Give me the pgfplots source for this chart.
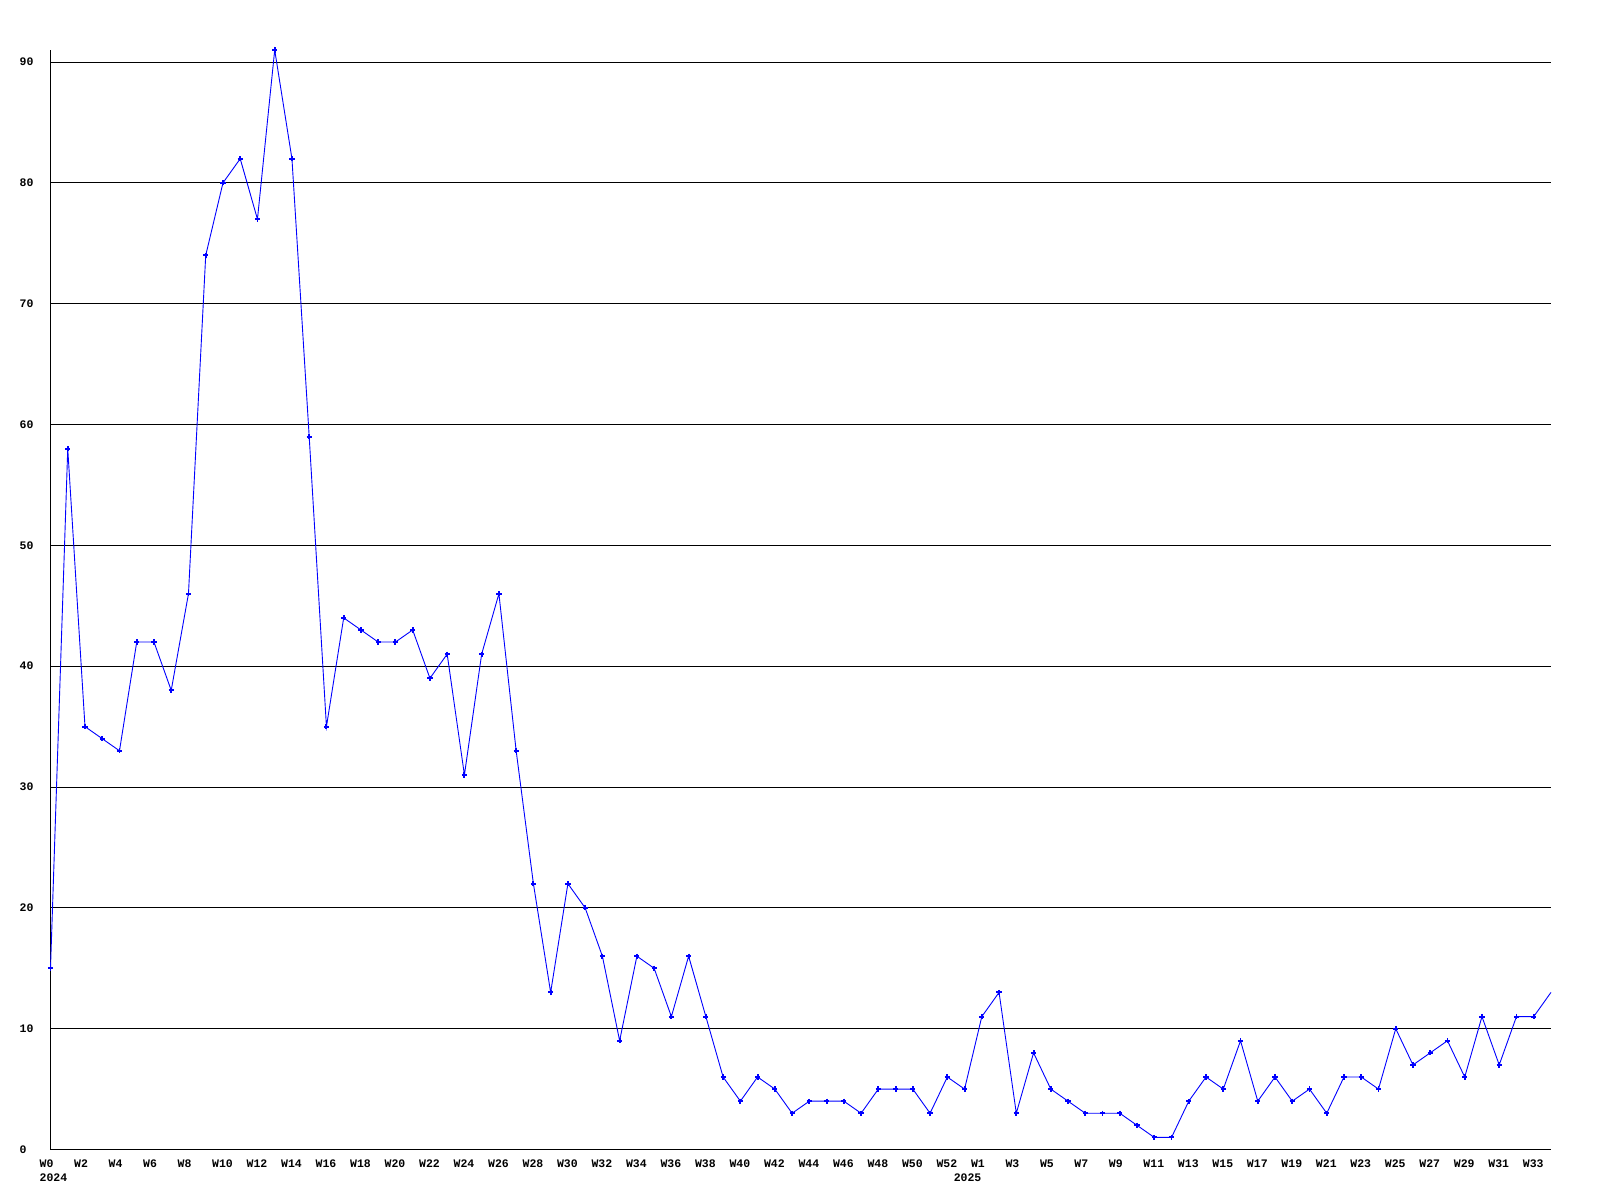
\documentclass[border=0pt]{standalone}
\usepackage{pgfplots}
\pgfplotsset{compat=1.18}
\usepackage{fontspec}
\setmainfont{Liberation Mono}
\pgfplotstableread{
x y
0 15
1 58
2 35
3 34
4 33
5 42
6 42
7 38
8 46
9 74
10 80
11 82
12 77
13 91
14 82
15 59
16 35
17 44
18 43
19 42
20 42
21 43
22 39
23 41
24 31
25 41
26 46
27 33
28 22
29 13
30 22
31 20
32 16
33 9
34 16
35 15
36 11
37 16
38 11
39 6
40 4
41 6
42 5
43 3
44 4
45 4
46 4
47 3
48 5
49 5
50 5
51 3
52 6
53 5
54 11
55 13
56 3
57 8
58 5
59 4
60 3
61 3
62 3
63 2
64 1
65 1
66 4
67 6
68 5
69 9
70 4
71 6
72 4
73 5
74 3
75 6
76 6
77 5
78 10
79 7
80 8
81 9
82 6
83 11
84 7
85 11
86 11
}\mainseries
\pgfplotstableread{
x y
86 11
87 13
}\lastseg
\begin{document}
\begin{tikzpicture}
\useasboundingbox (0,0) rectangle (1600bp,1200bp);
\begin{axis}[
  at={(50.5bp,50.5bp)}, anchor=south west,
  scale only axis, width=1500.5bp, height=1099.5bp,
  xmin=0, xmax=87, ymin=0, ymax=91,
  clip=false,
  axis x line*=bottom, axis y line*=left,
  axis line style={black, line width=1bp, -},
  ytick={0,10,20,30,40,50,60,70,80,90},
  ymajorgrids, grid style={black, line width=1bp},
  major tick length=0pt,
  /pgf/number format/assume math mode=true,
  xtick={0,2,4,6,8,10,12,14,16,18,20,22,24,26,28,30,32,34,36,38,40,42,44,46,48,50,52,53,54,56,58,60,62,64,66,68,70,72,74,76,78,80,82,84,86},
  xticklabels={{W0\\2024},W2,W4,W6,W8,W10,W12,W14,W16,W18,W20,W22,W24,W26,W28,W30,W32,W34,W36,W38,W40,W42,W44,W46,W48,W50,W52,{\vphantom{W0}\\2025},W1,W3,W5,W7,W9,W11,W13,W15,W17,W19,W21,W23,W25,W27,W29,W31,W33},
  xticklabel style={font=\fontsize{11.5bp}{14bp}\selectfont\bfseries, align=left, anchor=north west, inner sep=0pt, xshift=-11bp, yshift=-10bp},
  yticklabel style={font=\fontsize{11.5bp}{14bp}\selectfont\bfseries, anchor=west, inner sep=0pt, xshift=-31bp},
]
\addplot[color={rgb,255:red,0;green,0;blue,255}, line width=0.9bp, mark=+, mark size=2.6bp, mark options={line width=1.9bp, solid}] table[x=x,y=y] {\mainseries};
\addplot[color={rgb,255:red,0;green,0;blue,255}, line width=0.9bp, no marks] table[x=x,y=y] {\lastseg};
\end{axis}
\end{tikzpicture}
\end{document}
